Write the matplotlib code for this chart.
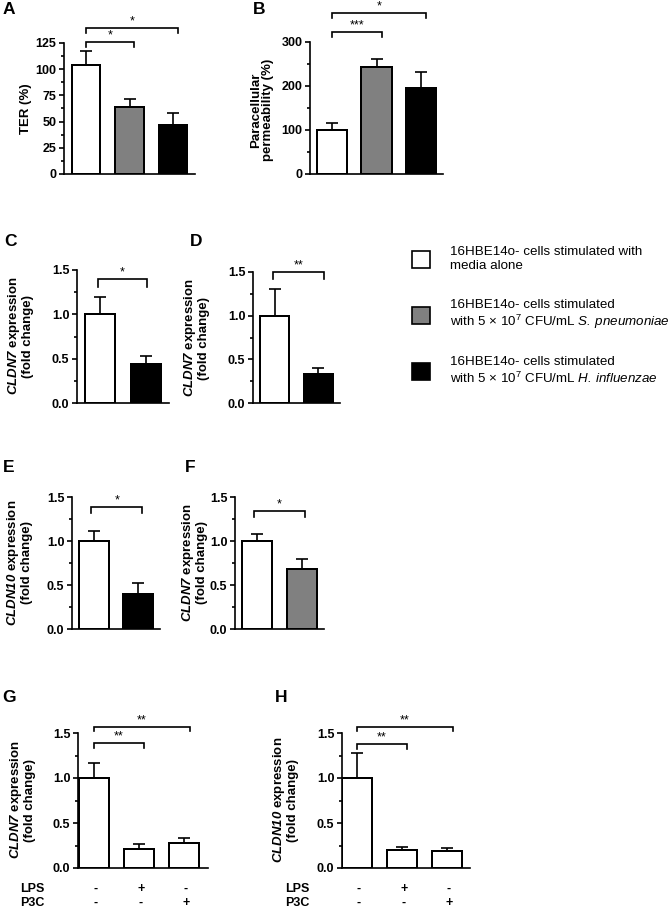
import matplotlib
matplotlib.use('Agg')
import matplotlib.pyplot as plt
from matplotlib.patches import Rectangle

plt.rcParams.update({
    'font.family': ['Liberation Sans', 'DejaVu Sans'],
    'mathtext.fontset': 'custom',
    'mathtext.rm': 'Liberation Sans',
    'mathtext.it': 'Liberation Sans:italic',
    'mathtext.bf': 'Liberation Sans:italic:bold',
    'mathtext.sf': 'Liberation Sans:italic',
})

# ---------------- data ----------------
ter_mean = [104, 64, 47]
ter_err = [13, 8, 11]
perm_mean = [101, 244, 196]
perm_err = [15, 18, 36]
c_mean = [1.0, 0.44]
c_err = [0.19, 0.09]
d_mean = [1.0, 0.33]
d_err = [0.30, 0.07]
e_mean = [1.0, 0.40]
e_err = [0.11, 0.12]
f_mean = [1.0, 0.68]
f_err = [0.08, 0.12]
g_mean = [1.0, 0.21, 0.28]
g_err = [0.17, 0.06, 0.05]
h_mean = [1.0, 0.20, 0.19]
h_err = [0.28, 0.03, 0.03]
lps_signs = ['-', '+', '-']
p3c_signs = ['-', '-', '+']

legend_labels = [
    '16HBE14o- cells stimulated with\nmedia alone',
    '16HBE14o- cells stimulated\nwith 5 \u00d7 10$^{7}$ CFU/mL $\\mathsf{S.\\,pneumoniae}$',
    '16HBE14o- cells stimulated\nwith 5 \u00d7 10$^{7}$ CFU/mL $\\mathsf{H.\\,influenzae}$',
]

WHITE, GREY, BLACK = 'white', '#808080', 'black'

W, H = 672, 911
fig = plt.figure(figsize=(W / 100, H / 100), dpi=100)

overlay = fig.add_axes([0, 0, 1, 1], zorder=-1)
overlay.set_xlim(0, W)
overlay.set_ylim(H, 0)
overlay.axis('off')


def axpx(left, top, right, bottom):
    return fig.add_axes([left / W, 1 - bottom / H, (right - left) / W, (bottom - top) / H])


LW = 1.2


def panel(ax, means, errs, colors, width, xlim, ylim, ticks, minors, labels):
    x = list(range(len(means)))
    ax.bar(x, means, width=width, color=colors, edgecolor='black', linewidth=LW * 1.2, zorder=2)
    ax.errorbar(x, means, yerr=[[0] * len(errs), errs], fmt='none', ecolor='black',
                elinewidth=LW, capsize=4.3, capthick=LW, zorder=3)
    ax.set_xlim(*xlim)
    ax.set_ylim(*ylim)
    ax.set_xticks([])
    ax.set_yticks(ticks)
    ax.set_yticklabels(labels, fontweight='bold', fontsize=9)
    ax.set_yticks(minors, minor=True)
    ax.tick_params(axis='y', which='major', direction='out', length=3.5, width=LW, pad=2)
    ax.tick_params(axis='y', which='minor', direction='out', length=2, width=LW)
    for s in ['top', 'right']:
        ax.spines[s].set_visible(False)
    for s in ['left', 'bottom']:
        ax.spines[s].set_linewidth(LW)
    ax.patch.set_alpha(0)


def bracket(ax, x1, x2, ytop, ydrop, label):
    ax.plot([x1, x1, x2, x2], [ydrop, ytop, ytop, ydrop], color='black', lw=LW, clip_on=False,
            solid_joinstyle='miter')
    ax.annotate(label, xy=((x1 + x2) / 2, ytop), xytext=(0, 0.5), textcoords='offset points',
                ha='center', va='bottom', fontsize=9, annotation_clip=False)


fold_ticks = [0, 0.5, 1.0, 1.5]
fold_minor = [0.25, 0.75, 1.25]
fold_labels = ['0.0', '0.5', '1.0', '1.5']

# A
axA = axpx(64, 43, 195, 174)
panel(axA, ter_mean, ter_err, [WHITE, GREY, BLACK], 0.65, (-0.5, 2.5), (0, 125),
      [0, 25, 50, 75, 100, 125], [12.5, 37.5, 62.5, 87.5, 112.5], ['0', '25', '50', '75', '100', '125'])
bracket(axA, 0, 1.1, 126, 121, '*')
bracket(axA, 0, 2.1, 139, 134.5, '*')

# B
axB = axpx(310, 42, 443, 174)
panel(axB, perm_mean, perm_err, [WHITE, GREY, BLACK], 0.68, (-0.5, 2.5), (0, 300),
      [0, 100, 200, 300], [50, 150, 250], ['0', '100', '200', '300'])
bracket(axB, 0, 1.13, 323, 311, '***')
bracket(axB, 0, 2.12, 366, 355, '*')

# C
axC = axpx(77, 270, 169, 403)
panel(axC, c_mean, c_err, [WHITE, BLACK], 0.64, (-0.5, 1.5), (0, 1.5), fold_ticks, fold_minor, fold_labels)
bracket(axC, -0.05, 1.03, 1.40, 1.31, '*')

# D
axD = axpx(253, 272, 340, 403)
panel(axD, d_mean, d_err, [WHITE, BLACK], 0.66, (-0.5, 1.5), (0, 1.5), fold_ticks, fold_minor, fold_labels)
bracket(axD, -0.05, 1.13, 1.50, 1.42, '**')

# E
axE = axpx(72, 497, 160, 629)
panel(axE, e_mean, e_err, [WHITE, BLACK], 0.67, (-0.5, 1.5), (0, 1.5), fold_ticks, fold_minor, fold_labels)
bracket(axE, -0.06, 1.10, 1.39, 1.32, '*')

# F
axF = axpx(235, 497, 324, 629)
panel(axF, f_mean, f_err, [WHITE, GREY], 0.67, (-0.5, 1.5), (0, 1.5), fold_ticks, fold_minor, fold_labels)
bracket(axF, -0.07, 1.07, 1.34, 1.27, '*')

# G
axG = axpx(78, 733, 208, 868)
panel(axG, g_mean, g_err, [WHITE] * 3, 0.67, (-0.35, 2.53), (0, 1.5), fold_ticks, fold_minor, fold_labels)
bracket(axG, 0, 1.11, 1.39, 1.33, '**')
bracket(axG, 0, 2.13, 1.57, 1.52, '**')

# H
axH = axpx(342, 733, 470, 868)
panel(axH, h_mean, h_err, [WHITE] * 3, 0.67, (-0.33, 2.51), (0, 1.5), fold_ticks, fold_minor, fold_labels)
bracket(axH, 0, 1.11, 1.38, 1.32, '**')
bracket(axH, 0, 2.13, 1.57, 1.52, '**')

# LPS / P3C sign rows
for ax in (axG, axH):
    for i, (a, b) in enumerate(zip(lps_signs, p3c_signs)):
        ax.text(i + 0.04, -0.235, a, ha='center', va='center', fontsize=9, fontweight='bold', clip_on=False)
        ax.text(i + 0.04, -0.39, b, ha='center', va='center', fontsize=9, fontweight='bold', clip_on=False)
for xpx in (20, 285):
    overlay.text(xpx, 889, 'LPS', ha='left', va='center', fontsize=9, fontweight='bold')
    overlay.text(xpx, 903, 'P3C', ha='left', va='center', fontsize=9, fontweight='bold')

# y labels
ylabels = [
    (26, 109, 'TER (%)'),
    (262, 110, 'Paracellular\npermeability (%)'),
    (20, 336, '$\\mathbf{CLDN7}$ expression\n(fold change)'),
    (196, 338, '$\\mathbf{CLDN7}$ expression\n(fold change)'),
    (19, 563, '$\\mathbf{CLDN10}$ expression\n(fold change)'),
    (194, 563, '$\\mathbf{CLDN7}$ expression\n(fold change)'),
    (22, 800, '$\\mathbf{CLDN7}$ expression\n(fold change)'),
    (285, 800, '$\\mathbf{CLDN10}$ expression\n(fold change)'),
]
for xpx, ypx, txt in ylabels:
    overlay.text(xpx, ypx, txt, rotation=90, ha='center', va='center', multialignment='center',
                 fontsize=9.5, fontweight='bold', linespacing=1.0)

# panel letters
letters = [('A', 3, 10), ('B', 253, 10), ('C', 4, 242), ('D', 190, 242),
           ('E', 3, 467), ('F', 185, 467), ('G', 2, 697), ('H', 275, 697)]
for t, xpx, ypx in letters:
    overlay.text(xpx, ypx, t, ha='left', va='center', fontsize=12.5, fontweight='bold')

# legend
legend_colors = [WHITE, GREY, BLACK]
legend_y = [259, 315, 371]
for col, ypx, txt in zip(legend_colors, legend_y, legend_labels):
    overlay.add_patch(Rectangle((412, ypx - 8.5), 18, 17, facecolor=col, edgecolor='black', lw=1.2))
    overlay.text(450, ypx, txt, ha='left', va='center', fontsize=9.6, linespacing=1.15)

fig.savefig('out.png', dpi=100)
